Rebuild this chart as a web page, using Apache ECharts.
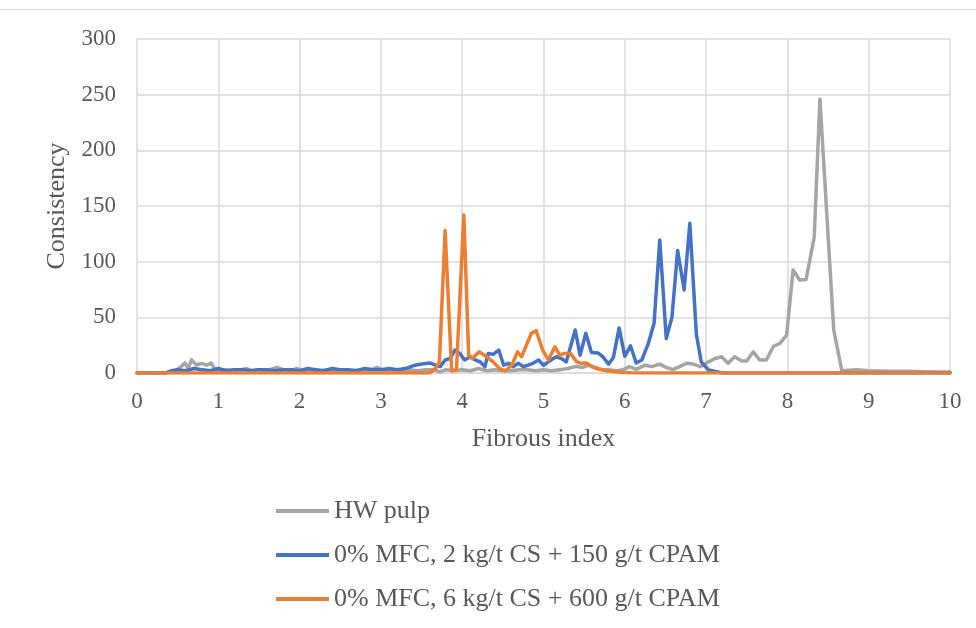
<!DOCTYPE html>
<html>
<head>
<meta charset="utf-8">
<script src="https://cdn.jsdelivr.net/npm/echarts@6/dist/echarts.min.js"></script>
<style>
  html, body { margin: 0; padding: 0; background: #ffffff; }
  #chart { width: 976px; height: 628px; }
</style>
</head>
<body>
<div id="chart"></div>
<script>
// Axis ticks
const xTicks = [0, 1, 2, 3, 4, 5, 6, 7, 8, 9, 10];
const yTicks = [0, 50, 100, 150, 200, 250, 300];

// Series names
const seriesNames = [
  'HW pulp',
  '0% MFC, 2 kg/t CS + 150 g/t CPAM',
  '0% MFC, 6 kg/t CS + 600 g/t CPAM'
];

// HW pulp
const hwX = [0, 0.3, 0.45, 0.53, 0.59, 0.63, 0.67, 0.73, 0.79, 0.86, 0.91, 0.96, 1.03, 1.1, 1.2, 1.28, 1.35, 1.42, 1.5, 1.6,
  1.72, 1.8, 1.88, 1.96, 2.05, 2.15, 2.25, 2.35, 2.45, 2.55, 2.65, 2.75, 2.85, 2.95, 3.05, 3.15, 3.25, 3.35, 3.45, 3.55,
  3.65, 3.72, 3.8, 3.9, 4.0, 4.1, 4.2, 4.3, 4.4, 4.5, 4.6, 4.7, 4.8, 4.9, 5.0, 5.1, 5.2, 5.3, 5.4, 5.48,
  5.56, 5.64, 5.72, 5.8, 5.9, 5.98, 6.06, 6.14, 6.25, 6.33, 6.43, 6.51, 6.59, 6.68, 6.76, 6.84, 6.93, 7.03, 7.11, 7.19,
  7.27, 7.35, 7.44, 7.5, 7.58, 7.66, 7.74, 7.83, 7.91, 7.99, 8.07, 8.15, 8.23, 8.33, 8.4, 8.57, 8.67, 8.85, 9.0, 9.26,
  9.5, 9.8, 10];
const hwY = [0, 0, 1, 5, 9, 4, 12, 7, 8.7, 7, 9, 3, 2, 3, 2, 3, 4, 2, 3, 2,
  5, 3, 2, 4, 2, 3, 2, 3, 2, 3, 2, 3, 2, 5, 2, 3, 2, 3, 2, 3,
  3, 1, 3, 2, 3, 2, 4, 2, 3, 2, 2, 3, 3, 2, 3, 2, 3, 4, 6, 5,
  7, 5, 3, 3, 2, 3, 5.7, 3.3, 7, 5.7, 8, 5, 3, 6, 8.7, 8, 5.7, 10, 13, 14.6,
  8.7, 14.6, 10.8, 10.8, 19, 11.7, 11.7, 24, 26.7, 34, 92.5, 83.5, 84, 122, 246, 38.6, 2, 3, 2, 1.5,
  1.5, 1, 1];

// 0% MFC, 2 kg/t CS + 150 g/t CPAM
const csLowX = [0, 0.35, 0.42, 0.5, 0.6, 0.7, 0.8, 0.9, 1.0, 1.1, 1.2, 1.3, 1.4, 1.5, 1.6, 1.7, 1.8, 1.9, 2.0, 2.1,
  2.2, 2.3, 2.4, 2.5, 2.6, 2.7, 2.8, 2.9, 3.0, 3.1, 3.2, 3.3, 3.42, 3.5, 3.6, 3.67, 3.73, 3.79, 3.85, 3.91,
  3.97, 4.03, 4.1, 4.16, 4.22, 4.28, 4.32, 4.38, 4.45, 4.51, 4.57, 4.63, 4.69, 4.75, 4.81, 4.87, 4.94, 5.0, 5.06, 5.12,
  5.16, 5.22, 5.28, 5.39, 5.45, 5.52, 5.59, 5.67, 5.73, 5.8, 5.86, 5.93, 6.0, 6.07, 6.14, 6.21, 6.29, 6.36, 6.43, 6.51,
  6.58, 6.65, 6.73, 6.8, 6.88, 6.94, 7.03, 7.2, 8, 9, 10];
const csLowY = [0, 0, 2, 3, 2, 4, 3, 2, 4, 2, 3, 3, 2, 3, 3, 2, 3, 3, 2, 4,
  3, 2, 4, 3, 3, 2, 4, 3, 3, 4, 3, 4, 7, 8, 9, 7, 5.7, 11.7, 13, 20.6,
  17.6, 11.7, 14.6, 11.7, 10, 5.7, 17.6, 16.7, 20.6, 7, 8.7, 5.7, 8.7, 5.7, 7, 8.7, 11.7, 7, 10, 13,
  14.6, 13, 10, 38.6, 16, 35.6, 18.5, 18, 14.6, 8, 14, 40.5, 15, 24.5, 9, 11.7, 26.7, 44.6, 119.5, 31,
  50, 110, 74.6, 134.5, 35, 10, 2.7, 0, 0, 0, 0];

// 0% MFC, 6 kg/t CS + 600 g/t CPAM
const csHighX = [0, 3.6, 3.67, 3.72, 3.79, 3.87, 3.93, 4.02, 4.08, 4.12, 4.21, 4.3, 4.38, 4.46, 4.53, 4.61, 4.68, 4.73, 4.79, 4.85,
  4.91, 4.99, 5.06, 5.14, 5.2, 5.26, 5.33, 5.41, 5.47, 5.53, 5.59, 5.67, 5.78, 5.9, 6.06, 6.2, 7, 8, 9, 10];
const csHighY = [0, 0, 4, 10, 128, 2, 3, 142, 16, 13, 19, 14.6, 10, 4, 2, 7, 19, 14.6, 25, 35.6,
  38, 20.6, 11.7, 23.6, 16, 17.6, 17.6, 10, 8.7, 9, 5.7, 3.6, 2, 1, 0.3, 0, 0, 0, 0, 0];

const colors = ['#a5a5a5', '#4472c4', '#ed7d31'];
const textColor = '#595959';
const gridColor = '#d9d9d9';
const fontFamily = '"Liberation Serif", "Times New Roman", serif';

function pairs(xs, ys) {
  return xs.map((x, i) => [x, ys[i]]);
}

const chart = echarts.init(document.getElementById('chart'));

chart.setOption({
  animation: false,
  backgroundColor: '#ffffff',
  color: colors,
  textStyle: { fontFamily: fontFamily, color: textColor },
  grid: { left: 137, right: 26, top: 39, bottom: 255, containLabel: false },
  xAxis: {
    type: 'value',
    min: xTicks[0],
    max: xTicks[xTicks.length - 1],
    interval: 1,
    name: 'Fibrous index',
    nameLocation: 'middle',
    nameGap: 53,
    nameTextStyle: { fontSize: 26, color: textColor, fontFamily: fontFamily },
    axisLine: { show: true, lineStyle: { color: gridColor, width: 1.5 } },
    axisTick: { show: false },
    axisLabel: { fontSize: 23, color: textColor, fontFamily: fontFamily, margin: 17 },
    splitLine: { show: true, lineStyle: { color: gridColor, width: 1.5 } }
  },
  yAxis: {
    type: 'value',
    min: yTicks[0],
    max: yTicks[yTicks.length - 1],
    interval: 50,
    name: 'Consistency',
    nameLocation: 'middle',
    nameGap: 64,
    nameRotate: 90,
    nameTextStyle: { fontSize: 26, color: textColor, fontFamily: fontFamily },
    axisLine: { show: false },
    axisTick: { show: false },
    axisLabel: { fontSize: 23, color: textColor, fontFamily: fontFamily, margin: 21 },
    splitLine: { show: true, lineStyle: { color: gridColor, width: 1.5 } }
  },
  legend: {
    orient: 'vertical',
    left: 271,
    top: 493,
    itemWidth: 53,
    itemHeight: 4,
    itemGap: 18,
    icon: 'rect',
    textStyle: { fontSize: 26, color: textColor, fontFamily: fontFamily, padding: [0, 0, 0, 0] },
    data: seriesNames
  },
  graphic: [{
    type: 'line',
    shape: { x1: 0, y1: 9.5, x2: 976, y2: 9.5 },
    style: { stroke: gridColor, lineWidth: 1 },
    silent: true
  }],
  series: [
    { name: seriesNames[0], type: 'line', data: pairs(hwX, hwY), showSymbol: false, symbol: 'none',
      lineStyle: { width: 3.5, color: colors[0], join: 'round', cap: 'round' } },
    { name: seriesNames[1], type: 'line', data: pairs(csLowX, csLowY), showSymbol: false, symbol: 'none',
      lineStyle: { width: 3.5, color: colors[1], join: 'round', cap: 'round' } },
    { name: seriesNames[2], type: 'line', data: pairs(csHighX, csHighY), showSymbol: false, symbol: 'none',
      lineStyle: { width: 3.5, color: colors[2], join: 'round', cap: 'round' } }
  ]
});
</script>
</body>
</html>
